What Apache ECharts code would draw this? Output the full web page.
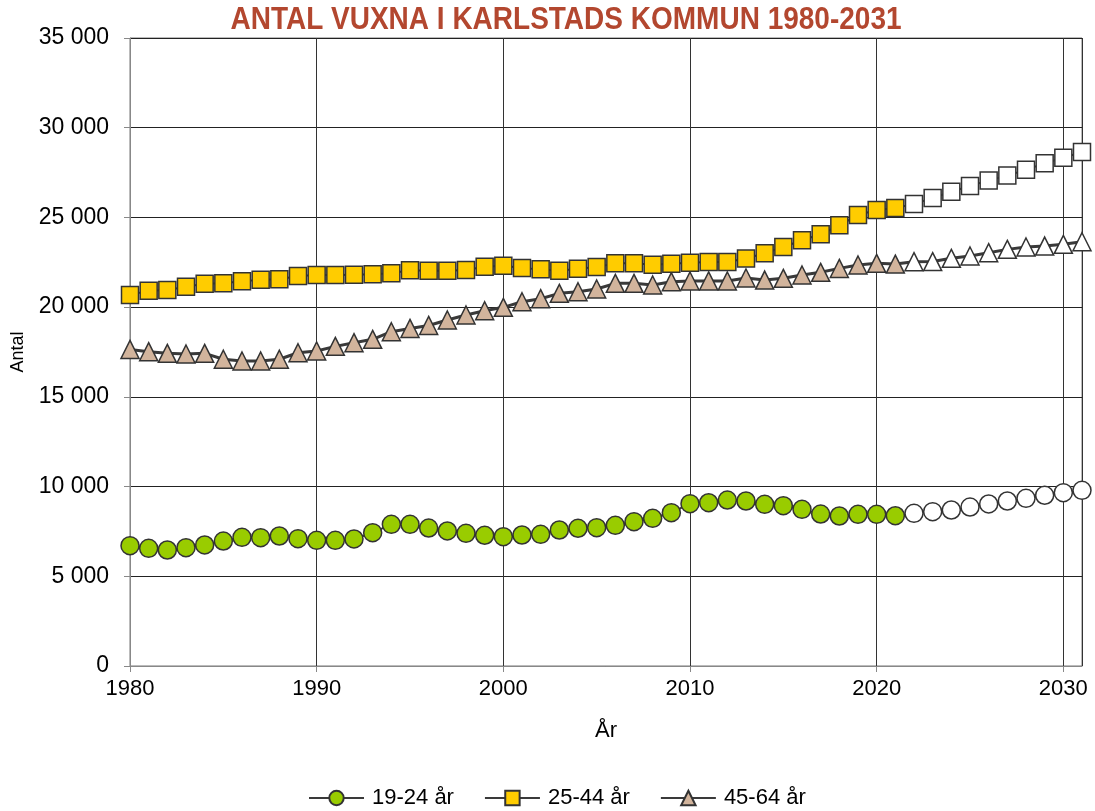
<!DOCTYPE html>
<html>
<head>
<meta charset="utf-8">
<script src="https://cdn.jsdelivr.net/npm/echarts@6/dist/echarts.min.js"></script>
<style>html,body{margin:0;padding:0;background:#fff}#c{width:1095px;height:811px}</style>
</head>
<body>
<div id="c"></div>
<script>
const years = [];
for (let y = 1980; y <= 2031; y++) years.push(y);
const firstForecastYear = 2022;

const s19_24 = [6705,6560,6465,6595,6745,6965,7170,7150,7245,7095,
  7005,7005,7080,7430,7895,7895,7690,7525,7395,7285,
  7210,7300,7340,7580,7675,7710,7840,8045,8230,8545,
  9045,9100,9250,9195,9010,8935,8730,8470,8360,8455,
  8455,8375,8510,8600,8695,8860,9030,9195,9345,9515,
  9660,9790];
const s25_44 = [20680,20920,20955,21140,21306,21325,21437,21530,21550,21735,
  21790,21790,21810,21830,21885,22060,22030,22030,22070,22255,
  22310,22180,22105,22030,22145,22237,22440,22440,22365,22420,
  22480,22515,22515,22710,23000,23350,23725,24060,24560,25135,
  25415,25525,25750,26080,26435,26750,27065,27330,27660,28015,
  28330,28645];
const s45_64 = [17645,17520,17425,17390,17425,17095,17000,17000,17095,17460,
  17555,17815,18020,18205,18630,18815,18980,19285,19560,19800,
  19990,20300,20470,20770,20860,21010,21325,21325,21235,21420,
  21455,21460,21455,21625,21510,21605,21790,21940,22160,22350,
  22440,22400,22535,22540,22720,22850,23035,23220,23350,23405,
  23500,23645];

const seriesNames = ['19-24 år','25-44 år','45-64 år'];
const seriesColors = ['#99CC00','#FFCC00','#D2B49C'];
const seriesSymbols = ['circle','rect','triangle'];
const seriesValues = [s19_24, s25_44, s45_64];
const titleText = 'ANTAL VUXNA I KARLSTADS KOMMUN 1980-2031';

function fmt(v){ return String(v).replace(/\B(?=(\d{3})+(?!\d))/g,' '); }

const chart = echarts.init(document.getElementById('c'), null, {renderer:'canvas'});
const font = '"Liberation Sans", Arial, sans-serif';

const series = seriesValues.map((vals, i) => ({
  name: seriesNames[i],
  type: 'line',
  symbol: seriesSymbols[i],
  symbolSize: i === 0 ? 18 : (i === 1 ? 17 : 18),
  lineStyle: {color: '#3a3a3a', width: i === 2 ? 3 : 2},
  itemStyle: {color: seriesColors[i], borderColor: '#333', borderWidth: 1.5},
  emphasis: {disabled: true},
  z: 3 - i,
  data: vals.map((v, k) => {
    const d = {value: [years[k], v]};
    if (years[k] >= firstForecastYear) d.itemStyle = {color: '#ffffff'};
    return d;
  })
}));

chart.setOption({
  animation: false,
  graphic: [{
    type: 'text', x: 566, y: 20, scaleX: 0.875, silent: true,
    style: {text: titleText, fill: '#B3472F', align: 'center', verticalAlign: 'middle',
      font: 'bold 32px "Liberation Sans", Arial, sans-serif'}
  }],
  grid: {left: 130, right: 13, top: 38, bottom: 145, show: true, borderColor: '#777', borderWidth: 1,
    outerBoundsMode: 'none', containLabel: false},
  legend: {
    top: 782, left: 303,
    itemWidth: 55, itemHeight: 18, itemGap: 30,
    textStyle: {fontSize: 22, color: '#000', fontFamily: font, padding: [0, 0, 0, 3]},
    data: seriesNames
  },
  xAxis: {
    type: 'value', min: 1980, max: 2031, interval: 10,
    name: 'År', nameLocation: 'middle', nameGap: 54,
    nameTextStyle: {fontSize: 22, color: '#000', fontFamily: font},
    axisLine: {show: true, lineStyle: {color: '#888'}},
    axisTick: {show: true, length: 6, lineStyle: {color: '#888'}},
    axisLabel: {fontSize: 22, color: '#000', fontFamily: font, margin: 12, showMaxLabel: false,
      formatter: v => String(v)},
    splitLine: {show: true, lineStyle: {color: '#333', width: 1}}
  },
  yAxis: {
    type: 'value', min: 0, max: 35000, interval: 5000,
    name: 'Antal', nameLocation: 'middle', nameGap: 103, nameRotate: 90,
    nameTextStyle: {fontSize: 18, color: '#000', fontFamily: font},
    axisLine: {show: true, lineStyle: {color: '#888'}},
    axisTick: {show: true, length: 6, lineStyle: {color: '#888'}},
    axisLabel: {fontSize: 23, color: '#000', fontFamily: font, margin: 21, formatter: fmt},
    splitLine: {show: true, lineStyle: {color: '#222', width: 1}}
  },
  series: series
});
</script>
</body>
</html>
